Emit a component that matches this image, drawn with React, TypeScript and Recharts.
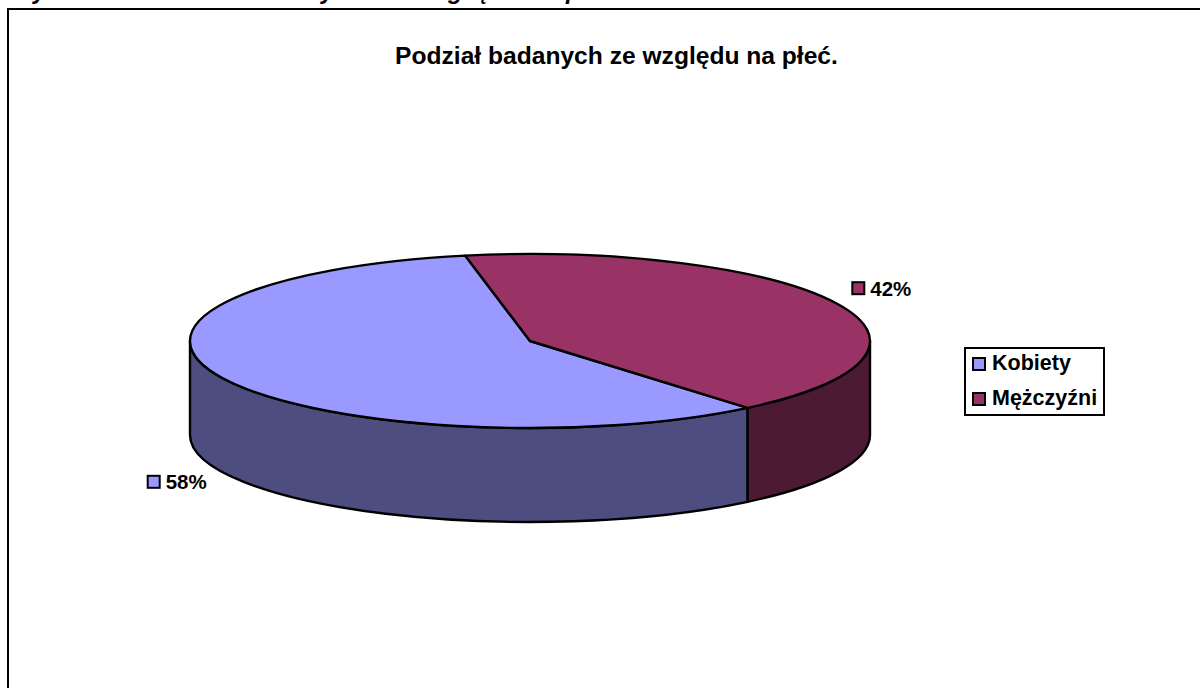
import React from 'react';
import { PieChart, Pie, Legend } from 'recharts';

const categories = ['Kobiety', 'Mężczyźni'];
const shares = [58, 42];
const topColors = ['#9999FF', '#993366'];
const wallColors = ['#4D4D80', '#4D1A33'];
const chartTitle = 'Podział badanych ze względu na płeć.';
// bottoms of the cut-off heading line above the chart
const clippedLetters = [
  { ch: 'y', left: 33 },
  { ch: 'y', left: 321 },
  { ch: 'g', left: 448 },
  { ch: 'ę', left: 476 },
  { ch: 'p', left: 566 },
];

const pieData = categories.map((name, i) => ({ name, value: shares[i], fill: topColors[i] }));

const FONT = '"Liberation Sans", Arial, sans-serif';
const SQUASH = 87 / 340; // tilt of the pie
const DEPTH = 94;
const LINE = 2.4;

const rim = (cx: number, cy: number, r: number, deg: number) => {
  const a = (deg * Math.PI) / 180;
  return { x: cx + r * Math.cos(a), y: cy - r * SQUASH * Math.sin(a) };
};

const Slice3D = (props: any, index: number) => {
  const { cx, cy, outerRadius: r, startAngle, endAngle } = props;
  const ry = r * SQUASH;
  const s = rim(cx, cy, r, startAngle);
  const e = rim(cx, cy, r, endAngle);
  const large = endAngle - startAngle > 180 ? 1 : 0;
  const top = `M${cx},${cy} L${s.x},${s.y} A${r},${ry} 0 ${large} 0 ${e.x},${e.y} Z`;

  // only the part facing the viewer (180..360) has a visible wall
  const a1 = Math.max(startAngle, 180);
  const a2 = Math.min(endAngle, 360);
  let wall = null;
  if (a2 > a1) {
    const p1 = rim(cx, cy, r, a1);
    const p2 = rim(cx, cy, r, a2);
    wall = (
      <path
        d={`M${p1.x},${p1.y} A${r},${ry} 0 0 0 ${p2.x},${p2.y} L${p2.x},${p2.y + DEPTH} A${r},${ry} 0 0 1 ${p1.x},${p1.y + DEPTH} Z`}
        fill={wallColors[index]}
        stroke="#000"
        strokeWidth={LINE}
        strokeLinejoin="round"
      />
    );
  }
  return (
    <g>
      {wall}
      <path d={top} fill={topColors[index]} stroke="#000" strokeWidth={LINE} strokeLinejoin="round" />
    </g>
  );
};

const SliceLabel = (props: any) => {
  const { cx, cy, outerRadius: r, midAngle, index, value } = props;
  const p = rim(cx, cy, r + 50, midAngle);
  const lower = Math.sin((midAngle * Math.PI) / 180) < 0;
  const y = lower ? p.y + DEPTH + 4 : p.y - 10;
  const x = p.x - 30;
  return (
    <g>
      <rect x={x} y={y - 6} width={12} height={12} fill={topColors[index]} stroke="#000" strokeWidth={2} />
      <text x={x + 18} y={y + 7.5} fontFamily={FONT} fontWeight="bold" fontSize={20.5} fill="#000">
        {value}%
      </text>
    </g>
  );
};

const LegendBox = () => (
  <div
    style={{
      boxSizing: 'border-box',
      width: 141,
      height: 69,
      border: '2px solid #000',
      background: '#fff',
      paddingLeft: 6,
      fontFamily: FONT,
      fontWeight: 'bold',
      fontSize: 21.5,
      lineHeight: '35px',
      color: '#000',
    }}
  >
    <div style={{ marginTop: -3 }}>
      {categories.map((name, i) => (
        <div key={name} style={{ display: 'flex', alignItems: 'center', whiteSpace: 'nowrap', height: 35 }}>
          <span
            style={{
              boxSizing: 'border-box',
              width: 14,
              height: 14,
              marginRight: 6,
              border: '2px solid #000',
              background: topColors[i],
            }}
          />
          {name}
        </div>
      ))}
    </div>
  </div>
);

export default function App() {
  return (
    <div style={{ position: 'absolute', left: 0, top: 0, width: 1200, height: 688, overflow: 'hidden', background: '#fff' }}>
      {clippedLetters.map((l, i) => (
        <span
          key={i}
          style={{
            position: 'absolute',
            left: l.left,
            top: -21,
            fontFamily: FONT,
            fontWeight: 'bold',
            fontStyle: 'italic',
            fontSize: 24,
            lineHeight: '24px',
          }}
        >
          {l.ch}
        </span>
      ))}
      <div
        style={{
          position: 'absolute',
          left: 7,
          top: 8,
          width: 1300,
          height: 800,
          border: '2px solid #000',
          boxSizing: 'border-box',
        }}
      />
      <div style={{ position: 'absolute', left: 0, top: 0 }}>
        <PieChart width={1200} height={688} margin={{ top: 0, right: 0, bottom: 0, left: 0 }}>
          <text x={616.5} y={64} textAnchor="middle" fontFamily={FONT} fontWeight="bold" fontSize={24.6} fill="#000">
            {chartTitle}
          </text>
          <Pie
            data={pieData}
            dataKey="value"
            nameKey="name"
            cx={530}
            cy={341}
            outerRadius={340}
            innerRadius={0}
            startAngle={101}
            endAngle={461}
            stroke="#000"
            shape={Slice3D as any}
            label={SliceLabel}
            labelLine={false}
            isAnimationActive={false}
          />
          <Legend
            content={<LegendBox />}
            wrapperStyle={{ position: 'absolute', left: 964, top: 347, width: 141, height: 69 }}
          />
        </PieChart>
      </div>
    </div>
  );
}
